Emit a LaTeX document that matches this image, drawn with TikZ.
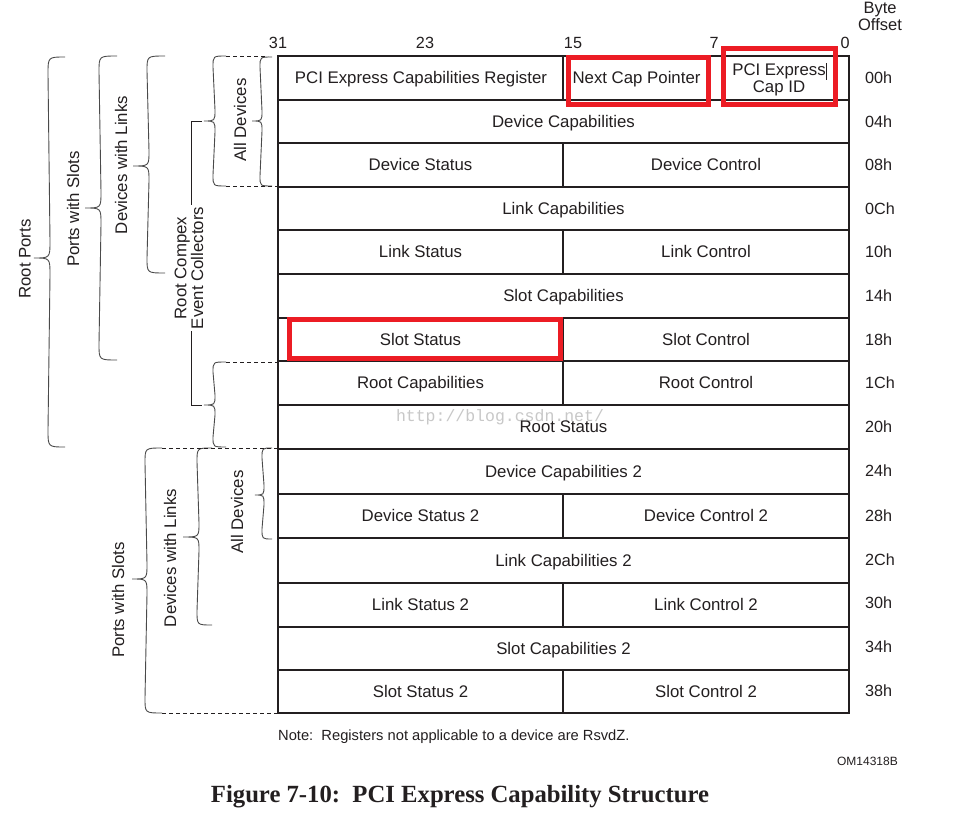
\documentclass[tikz,border=0pt]{standalone}
\usepackage{fontspec}
\setmainfont{Liberation Sans}
\newfontfamily\capfont{Liberation Serif}
\newfontfamily\wmfont{Liberation Mono}
\definecolor{txt}{HTML}{231F20}
\definecolor{brcol}{HTML}{4A4A4A}
\definecolor{redbox}{HTML}{EC1C24}
\definecolor{wmcol}{HTML}{C8C8C8}
\newcommand\mybrace[7]{%
  \draw[brc] (#1,#4) .. controls (#2,#4) .. (#2,#4+#7) -- (#2+2,#5-#7)
    .. controls (#2+2,#5) .. (#3,#5) .. controls (#2+2,#5) .. (#2+2,#5+#7)
    -- (#2,#6-#7) .. controls (#2,#6) .. (#1,#6);}
\begin{document}
\begin{tikzpicture}[x=1pt,y=-1pt,
  cell/.style={font=\fontsize{16.8}{18}\selectfont, text=txt, inner sep=0pt,
    text height=15pt, text depth=3.2pt, anchor=center},
  side/.style={font=\fontsize{16.8}{14.5}\selectfont, text=txt, inner sep=0pt,
    rotate=90, align=center, anchor=center},
  offs/.style={font=\fontsize{16.2}{18}\selectfont, text=txt, inner sep=0pt,
    text height=14.5pt, text depth=3pt, anchor=west},
  bitn/.style={font=\fontsize{16.2}{18}\selectfont, text=txt, inner sep=0pt,
    text height=14.5pt, text depth=3pt, anchor=center},
  brc/.style={draw=brcol, line width=0.9pt},
  dsh/.style={draw=txt, line width=0.9pt, dash pattern=on 4pt off 3pt},
  grid/.style={draw=txt, line width=1.1pt},
  frame/.style={draw=txt, line width=2.2pt},
  hl/.style={draw=redbox, line width=4.5pt}]
\useasboundingbox (0,0) rectangle (980,814);
\fill[white] (0,0) rectangle (980,814);

% watermark
\node[font=\wmfont\fontsize{16.5}{18}\selectfont, text=wmcol, inner sep=0pt] (wm) at (500,417) {http://blog.csdn.net/};

% table grid
\foreach \yy in {100,143,187,230,274,318,361,405,449,494,538,583,627,670}
  \draw[grid] (278,\yy) -- (849,\yy);
\draw[grid] (563,56) -- (563,100);
\draw[grid] (707,56) -- (707,100);
\foreach \ya/\yb in {143/187,230/274,318/361,361/405,494/538,583/627,670/713}
  \draw[grid] (563,\ya) -- (563,\yb);
\draw[frame] (278,56) rectangle (849,713);

% cells
\node[cell] (c00a) at (421,78) {PCI Express Capabilities Register};
\node[cell] (c00b) at (636.5,78) {Next Cap Pointer};
\node[cell] (c00c) at (779,70) {PCI Express};
\node[cell] (c00d) at (779,87) {Cap ID};
\node[cell] (c04) at (563.5,121.5) {Device Capabilities};
\node[cell] (c08a) at (420.5,165) {Device Status};
\node[cell] (c08b) at (706,165) {Device Control};
\node[cell] (c0C) at (563.5,208.5) {Link Capabilities};
\node[cell] (c10a) at (420.5,252) {Link Status};
\node[cell] (c10b) at (706,252) {Link Control};
\node[cell] (c14) at (563.5,296) {Slot Capabilities};
\node[cell] (c18a) at (420.5,339.5) {Slot Status};
\node[cell] (c18b) at (706,339.5) {Slot Control};
\node[cell] (c1Ca) at (420.5,383) {Root Capabilities};
\node[cell] (c1Cb) at (706,383) {Root Control};
\node[cell] (c20) at (563.5,427) {Root Status};
\node[cell] (c24) at (563.5,471.5) {Device Capabilities 2};
\node[cell] (c28a) at (420.5,516) {Device Status 2};
\node[cell] (c28b) at (706,516) {Device Control 2};
\node[cell] (c2C) at (563.5,560.5) {Link Capabilities 2};
\node[cell] (c30a) at (420.5,605) {Link Status 2};
\node[cell] (c30b) at (706,605) {Link Control 2};
\node[cell] (c34) at (563.5,648.5) {Slot Capabilities 2};
\node[cell] (c38a) at (420.5,692) {Slot Status 2};
\node[cell] (c38b) at (706,692) {Slot Control 2};

% cursor mark
\draw[draw=txt, line width=1pt] (826,63) -- (826,80);

% red highlight boxes
\draw[hl] (568.5,57.5) rectangle (708.5,104.5);
\draw[hl] (723.5,48.5) rectangle (835.5,104.5);
\draw[hl] (289.5,319.5) rectangle (560.5,358.5);

% bit numbers
\node[bitn] (b31) at (278,42.5) {31};
\node[bitn] (b23) at (425,42.5) {23};
\node[bitn] (b15) at (573,42.5) {15};
\node[bitn] (b7) at (714,42.5) {7};
\node[bitn] (b0) at (845,42.5) {0};
\node[font=\fontsize{16.5}{15}\selectfont, text=txt, inner sep=0pt, align=center] (bo) at (880,16.5) {Byte\\Offset};

% offsets
\foreach \lab/\yy in {00h/78,04h/121.5,08h/165,0Ch/208.5,10h/252,14h/296,18h/339.5,1Ch/383,20h/427,24h/471,28h/515.5,2Ch/559.5,30h/603,34h/646.5,38h/690.5}
  \node[offs] (o\lab) at (865,\yy) {\lab};

% braces (upper group)
\mybrace{65}{48}{34}{57}{258}{447}{17}
\mybrace{117}{99}{85}{56}{208}{360}{16}
\mybrace{165}{147}{133}{56}{166}{273}{15}
\mybrace{226}{213}{204}{56}{121}{186}{11}
\mybrace{272}{260}{252}{57}{121}{186}{10}
\mybrace{226}{213}{204}{362}{405}{447}{10}
% braces (lower group)
\mybrace{162}{145}{132}{448}{579}{713}{15}
\mybrace{212}{197}{183}{448}{537}{625}{14}
\mybrace{272}{262}{255}{448}{495}{539}{10}

% dashed leaders
\draw[dsh] (226,56) -- (268,56);
\draw[dsh] (226,186) -- (278,186);
\draw[dsh] (226,362) -- (278,362);
\draw[dsh] (162,448) -- (278,448);
\draw[dsh] (162,713) -- (278,713);

% root complex event collectors bracket
\coordinate (rt) at (202,121);
\coordinate (rb) at (202,405);
\draw[draw=txt, line width=1pt] (rt) -- (191,121) -- (191,405) -- (rb);

% side labels
\node[side] (lrp) at (25,259) {Root Ports};
\node[side] (lps1) at (73,209) {Ports with Slots};
\node[side] (ldl1) at (121,165) {Devices with Links};
\node[side, fill=white, inner sep=2pt] (lrc) at (189,268) {Root Compex\\Event Collectors};
\node[side] (lad1) at (240,120) {All Devices};
\node[side] (lps2) at (118,600) {Ports with Slots};
\node[side] (ldl2) at (170,558) {Devices with Links};
\node[side] (lad2) at (237,512) {All Devices};

% notes and caption
\node[font=\fontsize{14.7}{16}\selectfont, text=txt, inner sep=0pt, anchor=west] (note) at (278,737) {Note:\ \ Registers not applicable to a device are RsvdZ.};
\node[font=\fontsize{12}{14}\selectfont, text=txt, inner sep=0pt, anchor=east] (om) at (898,761) {OM14318B};
\node[font=\capfont\bfseries\fontsize{24.7}{27}\selectfont, text=txt, inner sep=0pt] (cap) at (460,797) {Figure 7-10:\ \ PCI Express Capability Structure};
\end{tikzpicture}
\end{document}
